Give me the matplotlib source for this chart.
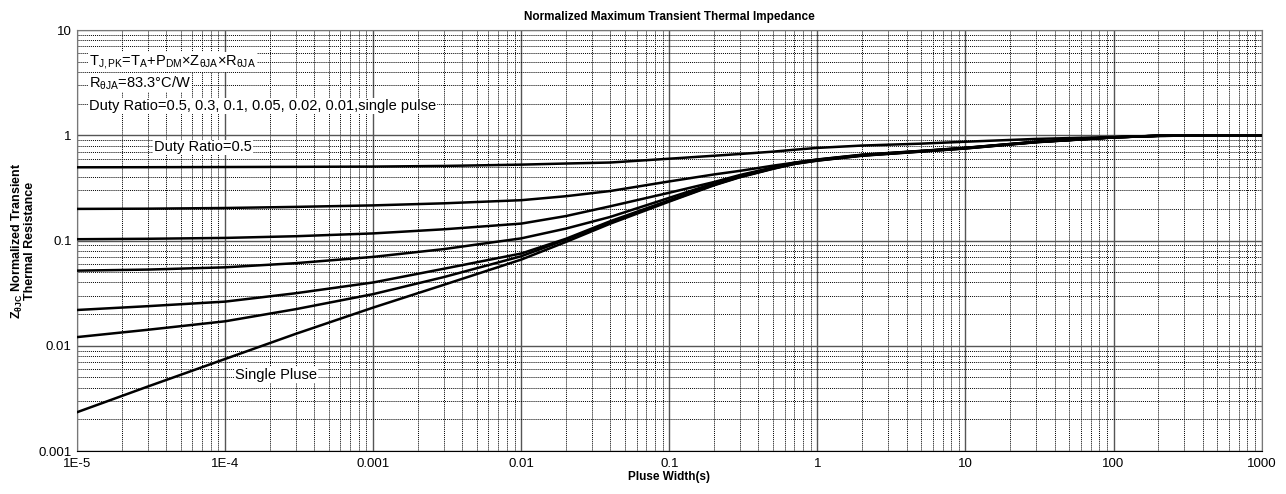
import matplotlib
matplotlib.use("Agg")
import matplotlib.pyplot as plt
from matplotlib.ticker import LogLocator, FixedLocator, FixedFormatter, NullFormatter

plt.rcParams['font.family'] = ['Liberation Sans', 'DejaVu Sans']
plt.rcParams['mathtext.fontset'] = 'custom'
plt.rcParams['mathtext.rm'] = 'Liberation Sans'
plt.rcParams['mathtext.it'] = 'Liberation Sans'
plt.rcParams['mathtext.bf'] = 'Liberation Sans:bold'

t = [1e-5, 3e-5, 1e-4, 3e-4, 1e-3, 3e-3, 0.01, 0.02, 0.04, 0.1, 0.2, 0.3,
     0.5, 0.7, 1, 2, 5, 10, 30, 100, 200, 1000]

z_single = [0.00234, 0.0041, 0.0075, 0.0130, 0.0231, 0.038, 0.066, 0.097, 0.145, 0.235, 0.335, 0.40,
            0.48, 0.535, 0.575, 0.64, 0.70, 0.75, 0.86, 0.955, 0.99, 1.0]
z_d001 = [0.0121, 0.0142, 0.0171, 0.0223, 0.031, 0.045, 0.071, 0.102, 0.150, 0.238, 0.338, 0.403,
          0.483, 0.537, 0.577, 0.642, 0.702, 0.752, 0.862, 0.956, 0.99, 1.0]
z_d002 = [0.0219, 0.0238, 0.0263, 0.0316, 0.040, 0.054, 0.0754, 0.104, 0.153, 0.242, 0.342, 0.406,
          0.486, 0.54, 0.58, 0.645, 0.705, 0.755, 0.864, 0.957, 0.99, 1.0]
z_d005 = [0.0518, 0.053, 0.0557, 0.061, 0.070, 0.083, 0.105, 0.130, 0.168, 0.255, 0.35, 0.413,
          0.49, 0.545, 0.584, 0.648, 0.708, 0.758, 0.866, 0.958, 0.99, 1.0]
z_d01 = [0.103, 0.104, 0.106, 0.110, 0.117, 0.128, 0.145, 0.171, 0.212, 0.285, 0.36, 0.42,
         0.495, 0.55, 0.588, 0.652, 0.71, 0.76, 0.868, 0.958, 0.99, 1.0]
z_d02 = [0.200, 0.201, 0.204, 0.209, 0.216, 0.226, 0.242, 0.264, 0.296, 0.365, 0.425, 0.46,
         0.515, 0.55, 0.59, 0.655, 0.712, 0.762, 0.87, 0.958, 0.99, 1.0]
z_d05 = [0.497, 0.498, 0.500, 0.502, 0.505, 0.512, 0.527, 0.54, 0.552, 0.60, 0.64, 0.665,
         0.70, 0.73, 0.76, 0.80, 0.834, 0.87, 0.925, 0.965, 0.99, 1.0]

curves = [z_d05, z_d02, z_d01, z_d005, z_d002, z_d001, z_single]

x_ticks = [1e-5, 1e-4, 1e-3, 1e-2, 1e-1, 1, 10, 100, 1000]
x_labels = ['1E-5', '1E-4', '0.001', '0.01', '0.1', '1', '10', '100', '1000']
y_ticks = [0.001, 0.01, 0.1, 1, 10]
y_labels = ['0.001', '0.01', '0.1', '1', '10']

fig = plt.figure(figsize=(12.86, 4.94), dpi=100)
ax = fig.add_axes([0.060, 0.087, 0.921, 0.852])

for z in curves:
    ax.plot(t, z, color='black', lw=1.8, zorder=3)

ax.set_xscale('log')
ax.set_yscale('log')
ax.set_xlim(1e-5, 1000)
ax.set_ylim(0.001, 10)

ax.xaxis.set_major_locator(FixedLocator(x_ticks))
ax.xaxis.set_major_formatter(FixedFormatter(x_labels))
ax.yaxis.set_major_locator(FixedLocator(y_ticks))
ax.yaxis.set_major_formatter(FixedFormatter(y_labels))
ax.xaxis.set_minor_locator(LogLocator(base=10, subs=range(2, 10), numticks=50))
ax.yaxis.set_minor_locator(LogLocator(base=10, subs=range(2, 10), numticks=50))
ax.xaxis.set_minor_formatter(NullFormatter())
ax.yaxis.set_minor_formatter(NullFormatter())

ax.grid(which='major', color='#555555', lw=1.0, ls='-')
ax.grid(which='minor', color='black', lw=0.7, ls=(0, (1, 1)))
ax.set_axisbelow(True)
ax.tick_params(which='both', length=0, labelsize=9.5)
ax.tick_params(axis='x', pad=5)
ax.tick_params(axis='y', pad=4)
for side in ['left', 'right', 'top']:
    ax.spines[side].set_color('#777777')
ax.spines['bottom'].set_color('black')

ax.set_title('Normalized Maximum Transient Thermal Impedance', fontsize=8.5,
             fontweight='bold', pad=7)
ax.set_xlabel('Pluse Width(s)', fontsize=8.5, fontweight='bold', labelpad=1)
ax.set_ylabel(r'$\mathbf{Z_{\theta JC}}$ Normalized Transient' + '\nThermal Resistance',
              fontsize=9, fontweight='bold', linespacing=0.8, labelpad=2)

box = dict(facecolor='white', edgecolor='none', pad=0.5)
ax.text(1.2e-5, 5.0, r'T$_{\mathrm{J,PK}}$=T$_{\mathrm{A}}$+P$_{\mathrm{DM}}$×Z$_{\mathrm{\theta JA}}$×R$_{\mathrm{\theta JA}}$',
        fontsize=10.5, va='center', ha='left', bbox=box, zorder=4)
ax.text(1.2e-5, 3.15, r'R$_{\mathrm{\theta JA}}$=83.3°C/W', fontsize=10.5,
        va='center', ha='left', bbox=box, zorder=4)
ax.text(1.2e-5, 1.9, 'Duty Ratio=0.5, 0.3, 0.1, 0.05, 0.02, 0.01,single pulse',
        fontsize=10.5, va='center', ha='left', bbox=box, zorder=4)
ax.text(3.3e-5, 0.77, 'Duty Ratio=0.5', fontsize=10.5, va='center', ha='left',
        bbox=box, zorder=4)
ax.text(1.17e-4, 0.0053, 'Single Pluse', fontsize=10.5, va='center', ha='left',
        bbox=box, zorder=4)

fig.savefig('out.png', dpi=100)
